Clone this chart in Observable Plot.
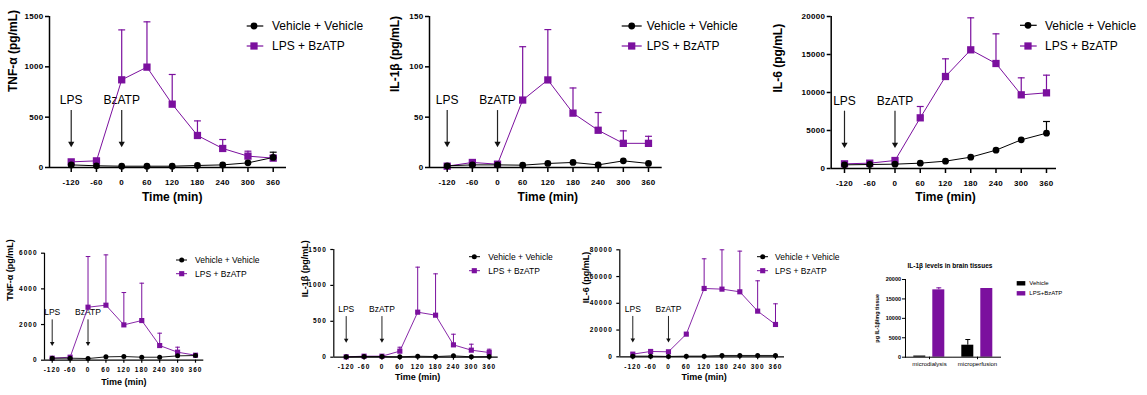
<!DOCTYPE html>
<html>
<head>
<meta charset="utf-8">
<script src="https://cdn.jsdelivr.net/npm/d3@7"></script>
<script src="https://cdn.jsdelivr.net/npm/@observablehq/plot@0.6"></script>
<style>
html,body{margin:0;padding:0;background:#fff;}
#root{position:relative;width:1147px;height:395px;overflow:hidden;font-family:"Liberation Sans",Arial,sans-serif;}
.big [aria-label$="tick label"]{letter-spacing:0.3px;}
.small [aria-label$="tick label"]{letter-spacing:1px;}
</style>
</head>
<body>
<div id="root"></div>
<script>
// ---------- shared categories ----------
const times = [-120, -60, 0, 60, 120, 180, 240, 300, 360];
const timeTickLabels = ["-120", "-60", "0", "60", "120", "180", "240", "300", "360"];
const seriesNames = ["Vehicle + Vehicle", "LPS + BzATP"];
const seriesColors = ["#000000", "#7b109e"];
const seriesSymbols = ["circle", "square"];
const annotLabels = ["LPS", "BzATP"];
const annotTimes = [-120, 0];
const xTitle = "Time (min)";

// ---------- top row ----------
const tnfTopTicks = [0, 500, 1000, 1500];
const tnfTopVehicle = [26, 17, 13, 13, 13, 20, 26, 46, 100];
const tnfTopVehicleErr = [0, 0, 0, 0, 0, 0, 0, 0, 52];
const tnfTopLps = [56, 66, 871, 997, 629, 318, 189, 113, 93];
const tnfTopLpsErr = [0, 0, 496, 450, 295, 145, 89, 49, 26];

const il1bTopTicks = [0, 50, 100, 150];
const il1bTopVehicle = [1.7, 2.6, 2.6, 2.3, 4, 5, 2.6, 6.6, 4];
const il1bTopVehicleErr = [0, 0, 0, 0, 0, 0, 0, 0, 0];
const il1bTopLps = [1.3, 5, 3.3, 67, 87, 54, 37, 24, 24];
const il1bTopLpsErr = [0, 0, 0, 53, 50, 25, 17.6, 12.4, 7];

const il6TopTicks = [0, 5000, 10000, 15000, 20000];
const il6TopVehicle = [482, 526, 570, 702, 965, 1491, 2412, 3772, 4649];
const il6TopVehicleErr = [0, 0, 0, 0, 0, 0, 0, 0, 1535];
const il6TopLps = [614, 702, 1053, 6667, 12105, 15614, 13816, 9693, 9956];
const il6TopLpsErr = [0, 0, 0, 1491, 2325, 4211, 3903, 2237, 2325];

// ---------- bottom row ----------
const tnfBotTicks = [0, 2000, 4000, 6000];
const tnfBotVehicle = [112, 112, 93, 187, 206, 168, 168, 243, 262];
const tnfBotVehicleErr = [0, 0, 0, 0, 0, 0, 0, 0, 0];
const tnfBotLps = [112, 168, 2972, 3084, 1981, 2224, 822, 449, 280];
const tnfBotLpsErr = [0, 0, 2841, 2822, 1813, 2094, 692, 280, 0];

const il1bBotTicks = [0, 500, 1000, 1500];
const il1bBotVehicle = [5, 9, 9, 5, 14, 9, 19, 5, 9];
const il1bBotVehicleErr = [0, 0, 0, 0, 0, 0, 0, 0, 0];
const il1bBotLps = [5, 14, 14, 84, 627, 585, 172, 98, 65];
const il1bBotLpsErr = [0, 0, 0, 55, 627, 576, 148, 83, 46];

const il6BotTicks = [0, 20000, 40000, 60000, 80000];
const il6BotVehicle = [498, 498, 249, 498, 498, 997, 997, 997, 997];
const il6BotVehicleErr = [0, 0, 0, 0, 0, 0, 0, 0, 0];
const il6BotLps = [1994, 3988, 3738, 16947, 51087, 50589, 48595, 34141, 24174];
const il6BotLpsErr = [0, 0, 0, 0, 22179, 29406, 30403, 22677, 15451];

// ---------- bar chart ----------
const barTitle = "IL-1β levels in brain tissues";
const barYLabel = "pg IL-1β/mg tissue";
const barCategories = ["microdialysis", "microperfusion"];
const barSeries = ["Vehicle", "LPS+BzATP"];
const barColors = ["#000000", "#7b109e"];
const barVehicle = [300, 3090];
const barVehicleErr = [0, 1459];
const barLps = [17339, 17682];
const barLpsErr = [515, 0];
const barTicks = [0, 5000, 10000, 15000, 20000];

// ---------- styles / layout ----------
const FONT = "'Liberation Sans', Arial, sans-serif";
const styles = {
  big: {tickFont: 8, titleFont: 12, annFont: 12, legendFont: 12, dotR: [3.4, 4.1], capR: 3.9, headR: 2.3,
        axisW: 1.5, errW: 1.2, lineW: 1, yTickSize: 4, yTickPad: 2, xTickSize: 5, xTickPad: 7, arrowW: 1.2,
        legLineW: 1.2},
  small: {tickFont: 6.5, titleFont: 9, annFont: 8.5, legendFont: 8.5, dotR: [2.5, 2.9], capR: 2.6, headR: 1.7,
        axisW: 1.2, errW: 1, lineW: 0.9, yTickSize: 3, yTickPad: 4, xTickSize: 3, xTickPad: 4.5, arrowW: 1,
        legLineW: 1}
};

const panels = [
  {size: "big", yLabel: "TNF-α (pg/mL)", yTicks: tnfTopTicks, vals: [tnfTopVehicle, tnfTopLps], errs: [tnfTopVehicleErr, tnfTopLpsErr],
   left: 0, top: 0, width: 290, height: 210, mL: 49, mR: 4, mT: 16, mB: 43, xDom: [-171.6, 391.6], yTitleX: 13, yTitleDy: 0, xTitleDy: 33,
   legend: {x1: 246.7, x2: 263.3, mx: 254, tx: 272, ys: [26, 46]}},
  {size: "big", yLabel: "IL-1β (pg/mL)", yTicks: il1bTopTicks, vals: [il1bTopVehicle, il1bTopLps], errs: [il1bTopVehicleErr, il1bTopLpsErr],
   left: 380, top: 0, width: 290, height: 210, mL: 49, mR: 8.3, mT: 16, mB: 43, xDom: [-162.2, 392.7], yTitleX: 395, yTitleDy: 0, xTitleDy: 33,
   legend: {x1: 621.7, x2: 641.7, mx: 631.7, tx: 646.7, ys: [26, 46]}},
  {size: "big", yLabel: "IL-6 (pg/mL)", yTicks: il6TopTicks, vals: [il6TopVehicle, il6TopLps], errs: [il6TopVehicleErr, il6TopLpsErr],
   left: 760, top: 0, width: 300, height: 210, mL: 70.7, mR: 4, mT: 16, mB: 42, xDom: [-151.6, 383.8], yTitleX: 778, yTitleDy: 0, xTitleDy: 32,
   legend: {x1: 1020, x2: 1036.7, mx: 1028, tx: 1045, ys: [25.3, 46]}},
  {size: "small", yLabel: "TNF-α (pg/mL)", yTicks: tnfBotTicks, vals: [tnfBotVehicle, tnfBotLps], errs: [tnfBotVehicleErr, tnfBotLpsErr],
   left: 0, top: 230, width: 210, height: 165, mL: 44, mR: 6.7, mT: 22.7, mB: 35.3, xDom: [-145.8, 387.8], yTitleX: 10, yTitleDy: -6, xTitleDy: 24.3,
   legend: {x1: 176, x2: 187, mx: 181.7, tx: 195, ys: [260, 273.7]}},
  {size: "small", yLabel: "IL-1β (pg/mL)", yTicks: il1bBotTicks, vals: [il1bBotVehicle, il1bBotLps], errs: [il1bBotVehicleErr, il1bBotLpsErr],
   left: 290, top: 230, width: 210, height: 165, mL: 43.3, mR: 2.3, mT: 19, mB: 38.3, xDom: [-161.6, 390.2], yTitleX: 305, yTitleDy: -6, xTitleDy: 22.6,
   legend: {x1: 469, x2: 480, mx: 474.3, tx: 488.3, ys: [256.7, 270.7]}},
  {size: "small", yLabel: "IL-6 (pg/mL)", yTicks: il6BotTicks, vals: [il6BotVehicle, il6BotLps], errs: [il6BotVehicleErr, il6BotLpsErr],
   left: 580, top: 230, width: 210, height: 165, mL: 39.3, mR: 6, mT: 19.3, mB: 38.7, xDom: [-163.7, 390.3], yTitleX: 586, yTitleDy: 0, xTitleDy: 23,
   legend: {x1: 757, x2: 768, mx: 762.7, tx: 775, ys: [256.7, 270.7]}}
];

// horizontal cap symbol for error bars
const capSymbol = {draw(ctx, size) { const w = Math.sqrt(size) / 2; ctx.moveTo(-w, 0); ctx.lineTo(w, 0); }};

const root = document.getElementById("root");

function linePanel(p) {
  const st = styles[p.size];
  const rows = [];
  p.vals.forEach((vals, si) => vals.forEach((v, i) => rows.push({t: times[i], v, e: p.errs[si][i], s: seriesNames[si], si})));
  const ymax = p.yTicks[p.yTicks.length - 1];
  const ann = annotLabels.map((label, i) => ({label, t: annotTimes[i]}));
  const order = [1, 0]; // LPS drawn first, vehicle on top
  const seriesMarks = order.flatMap(si => {
    const r = rows.filter(d => d.si === si);
    const er = r.filter(d => d.e > 0);
    return [
      Plot.ruleX(er, {x: "t", y1: "v", y2: d => d.v + d.e, stroke: seriesColors[si], strokeWidth: st.errW}),
      Plot.dot(er, {x: "t", y: d => d.v + d.e, symbol: capSymbol, r: st.capR, stroke: seriesColors[si], fill: "none", strokeWidth: st.errW}),
      Plot.line(r, {x: "t", y: "v", stroke: seriesColors[si], strokeWidth: st.lineW}),
      Plot.dot(r, {x: "t", y: "v", symbol: seriesSymbols[si], fill: seriesColors[si], stroke: "none", r: st.dotR[si]})
    ];
  });
  const svg = Plot.plot({
    className: p.size,
    width: p.width, height: p.height,
    marginLeft: p.mL, marginRight: p.mR, marginTop: p.mT, marginBottom: p.mB,
    x: {domain: p.xDom},
    y: {domain: [0, ymax]},
    style: {position: "absolute", left: p.left + "px", top: p.top + "px", fontFamily: FONT, background: "transparent", overflow: "visible", color: "#000"},
    marks: [
      // annotations
      Plot.text(ann, {x: "t", y: ymax * 0.444, text: "label", fontSize: st.annFont, fill: "#000"}),
      Plot.ruleX(ann, {x: "t", y1: ymax * 0.377, y2: ymax * 0.16, stroke: "#222", strokeWidth: st.arrowW}),
      Plot.dot(ann, {x: "t", y: ymax * 0.158, symbol: "triangle", rotate: 180, r: st.headR, fill: "#111", stroke: "none"}),
      ...seriesMarks,
      // axes
      Plot.ruleX([p.xDom[0]], {stroke: "#000", strokeWidth: st.axisW}),
      Plot.ruleY([0], {stroke: "#000", strokeWidth: st.axisW}),
      Plot.axisY(p.yTicks, {tickSize: st.yTickSize, tickPadding: st.yTickPad, tickFormat: d => String(d),
        fontSize: st.tickFont, fontWeight: "bold", strokeWidth: st.axisW, label: null}),
      Plot.axisX(times, {tickSize: st.xTickSize, tickPadding: st.xTickPad, tickFormat: d => timeTickLabels[times.indexOf(d)],
        fontSize: st.tickFont, fontWeight: "bold", strokeWidth: st.axisW, label: null}),
      // axis titles
      Plot.text([p.yLabel], {text: d => d, frameAnchor: "left", dx: p.yTitleX - p.left - p.mL, dy: p.yTitleDy, rotate: -90,
        fontSize: st.titleFont, fontWeight: "bold", fill: "#000"}),
      Plot.text([xTitle], {text: d => d, x: (times[0] + times[times.length - 1]) / 2, frameAnchor: "bottom", dy: p.xTitleDy,
        fontSize: st.titleFont, fontWeight: "bold", fill: "#000"})
    ]
  });
  root.appendChild(svg);
}
panels.forEach(linePanel);

// ---------- bar chart ----------
const barRows = barCategories.flatMap((c, i) => [
  {category: c, series: barSeries[0], value: barVehicle[i], err: barVehicleErr[i]},
  {category: c, series: barSeries[1], value: barLps[i], err: barLpsErr[i]}
]);
const barErrRows = barRows.filter(d => d.err > 0);
const barSvg = Plot.plot({
  width: 140, height: 130, marginLeft: 34.7, marginRight: 9, marginTop: 29, marginBottom: 23.3,
  fx: {domain: barCategories, padding: 0, label: null, axis: null},
  x: {domain: barSeries, axis: null, paddingInner: 0.375, paddingOuter: 0.45},
  y: {domain: [0, 20000]},
  color: {domain: barSeries, range: barColors},
  style: {position: "absolute", left: "870px", top: "250px", fontFamily: FONT, background: "transparent", overflow: "visible", color: "#000"},
  marks: [
    Plot.barY(barRows, {fx: "category", x: "series", y: "value", fill: "series"}),
    Plot.ruleX(barErrRows, {fx: "category", x: "series", y1: "value", y2: d => d.value + d.err, stroke: "series", strokeWidth: 1}),
    Plot.dot(barErrRows, {fx: "category", x: "series", y: d => d.value + d.err, symbol: capSymbol, r: 2.8, stroke: "series", fill: "none", strokeWidth: 1}),
    Plot.ruleY([0], {stroke: "#000", strokeWidth: 1}),
    Plot.frame({anchor: "left", facetAnchor: "left", stroke: "#000", strokeWidth: 1}),
    Plot.axisY(barTicks, {tickSize: 3, tickPadding: 1.5, tickFormat: d => String(d), fontSize: 5.5, fontWeight: "bold",
      label: barYLabel, labelAnchor: "center", labelArrow: "none", labelOffset: 30}),
    Plot.axisFx({anchor: "bottom", tickSize: 2.5, tickPadding: 2.5, fontSize: 6, label: null})
  ]
});
root.appendChild(barSvg);

// ---------- overlay: legends and bar title ----------
const ov = d3.select(root).append("svg")
  .attr("width", 1147).attr("height", 395)
  .style("position", "absolute").style("left", "0px").style("top", "0px")
  .style("pointer-events", "none").style("font-family", FONT);

panels.forEach(p => {
  const st = styles[p.size];
  const L = p.legend;
  seriesNames.forEach((name, si) => {
    const y = L.ys[si];
    ov.append("line").attr("x1", L.x1).attr("x2", L.x2).attr("y1", y).attr("y2", y)
      .attr("stroke", seriesColors[si]).attr("stroke-width", st.legLineW);
    const sym = si === 0 ? d3.symbolCircle : d3.symbolSquare;
    ov.append("path").attr("d", d3.symbol(sym, Math.PI * st.dotR[si] * st.dotR[si])())
      .attr("transform", `translate(${L.mx},${y})`).attr("fill", seriesColors[si]);
    ov.append("text").attr("x", L.tx).attr("y", y).attr("dy", "0.35em")
      .attr("font-size", st.legendFont).attr("fill", "#000").text(name);
  });
});

// bar legend
const barLegendYs = [283.3, 293.3];
barSeries.forEach((name, i) => {
  ov.append("rect").attr("x", 1016.7).attr("y", barLegendYs[i] - 2.2).attr("width", 8.6).attr("height", 4.4)
    .attr("fill", barColors[i]);
  ov.append("text").attr("x", 1029.3).attr("y", barLegendYs[i]).attr("dy", "0.35em")
    .attr("font-size", 6).attr("fill", "#000").text(name);
});
ov.append("text").attr("x", 950).attr("y", 265.3).attr("dy", "0.35em").attr("text-anchor", "middle")
  .attr("font-size", 6.5).attr("font-weight", "bold").attr("fill", "#000").text(barTitle);
</script>
</body>
</html>
